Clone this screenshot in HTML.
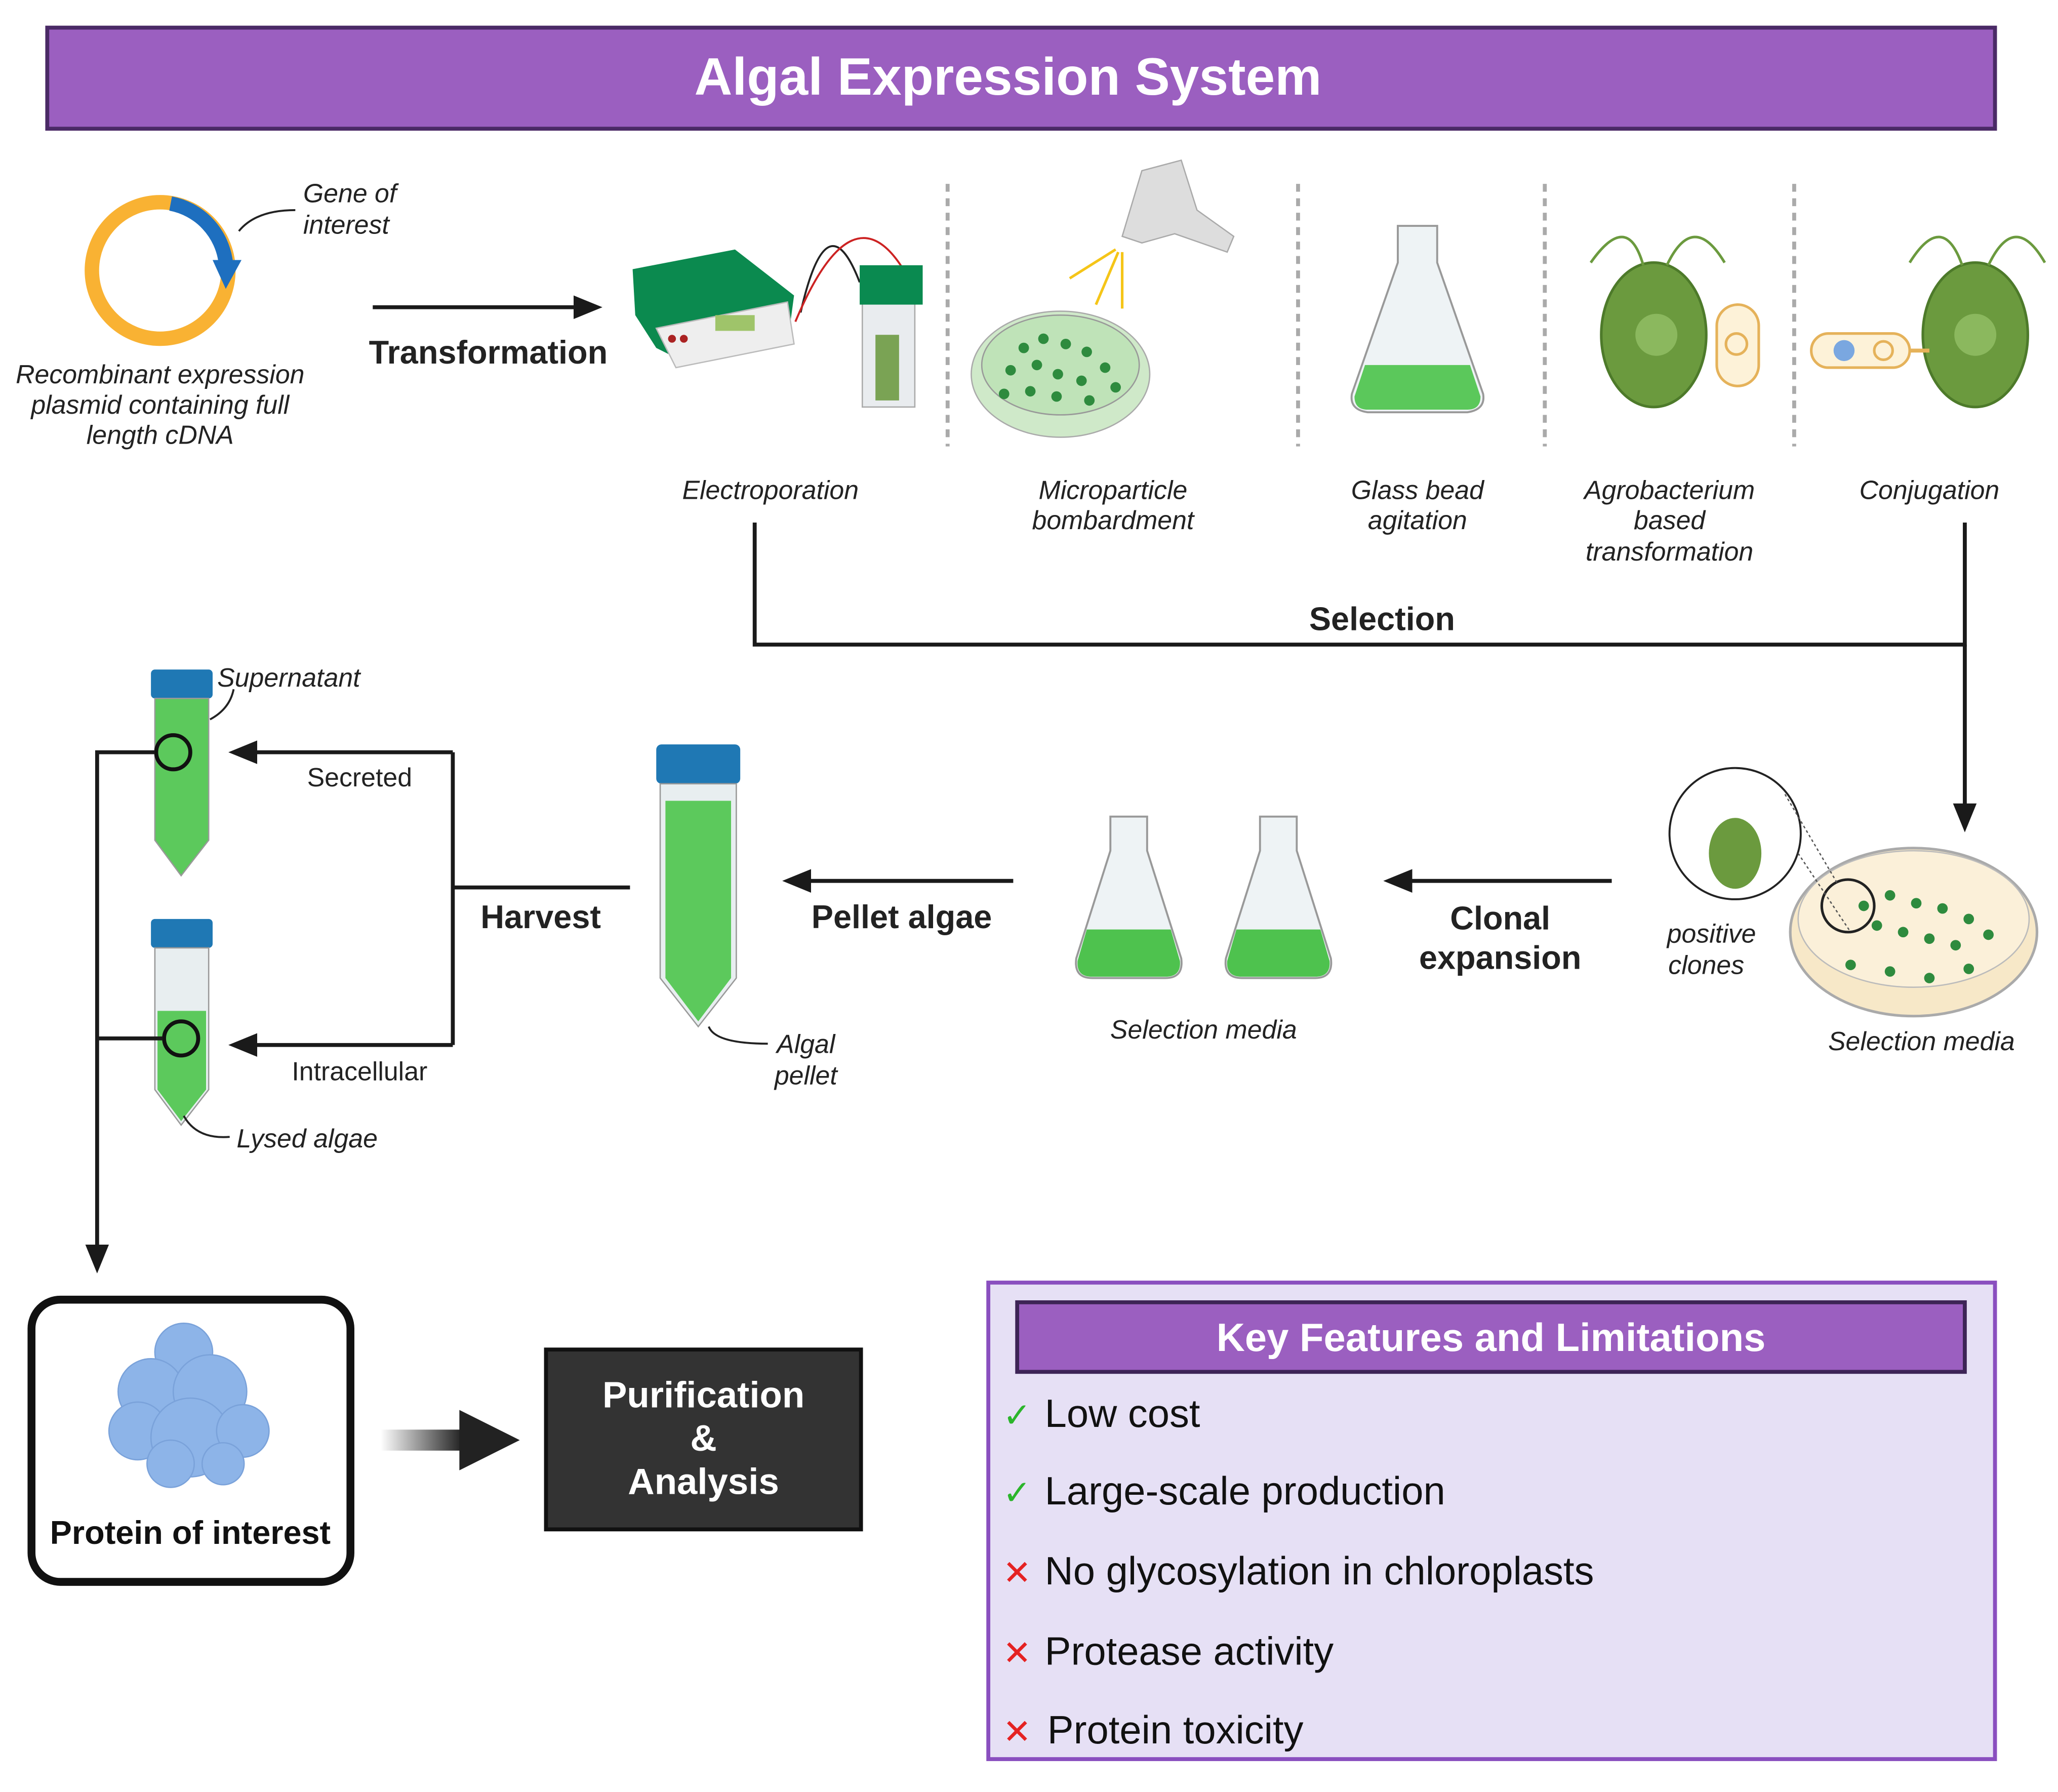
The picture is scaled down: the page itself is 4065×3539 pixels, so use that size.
<!DOCTYPE html>
<html><head><meta charset="utf-8"><style>
html,body{margin:0;padding:0;background:#fff;}
svg{display:block;}
text{font-family:"Liberation Sans",sans-serif;}
</style></head><body>
<svg width="4065" height="3539" viewBox="0 0 1568 1365" xmlns="http://www.w3.org/2000/svg">
<defs>
<marker id="ah" markerWidth="10" markerHeight="10" refX="8" refY="5" orient="auto" markerUnits="userSpaceOnUse"><path d="M0,0 L10,5 L0,10 z" fill="#1a1a1a"/></marker>
<marker id="ah2" markerWidth="22" markerHeight="18" refX="18" refY="9" orient="auto" markerUnits="userSpaceOnUse"><path d="M0,0 L22,9 L0,18 z" fill="#1a1a1a"/></marker>
<linearGradient id="bg" x1="0" x2="1"><stop offset="0" stop-color="#fff"/><stop offset="1" stop-color="#222"/></linearGradient>
</defs>
<rect x="36" y="21" width="1484" height="77" fill="#9B5FC0" stroke="#4a2a66" stroke-width="3"/>
<text x="768" y="72" font-size="40" font-weight="bold" fill="#fff" text-anchor="middle">Algal Expression System</text>

<!-- plasmid -->
<circle cx="122" cy="206" r="52" fill="none" stroke="#F9B233" stroke-width="11"/>
<path d="M130,155 A52,52 0 0 1 172,200" fill="none" stroke="#1E6FBF" stroke-width="11"/>
<path d="M162,198 L184,198 L172,220 z" fill="#1E6FBF"/>
<path d="M225,160 Q195,160 182,176" fill="none" stroke="#222" stroke-width="1.5"/>
<g font-size="20" font-style="italic" fill="#222">
<text x="231" y="154">Gene of</text><text x="231" y="178">interest</text>
<text x="122" y="292" text-anchor="middle">Recombinant expression</text>
<text x="122" y="315" text-anchor="middle">plasmid containing full</text>
<text x="122" y="338" text-anchor="middle">length cDNA</text>
</g>
<line x1="284" y1="234" x2="455" y2="234" stroke="#1a1a1a" stroke-width="3" marker-end="url(#ah2)"/>
<text x="372" y="277" font-size="25" font-weight="bold" text-anchor="middle" fill="#222">Transformation</text>

<!-- electroporator -->
<path d="M482,205 L560,190 L605,225 L600,262 L520,275 L500,265 L484,240 z" fill="#0b8a4f"/>
<path d="M500,250 L600,230 L605,262 L515,280 z" fill="#eee" stroke="#bbb"/>
<rect x="545" y="240" width="30" height="12" fill="#9fc46a"/>
<circle cx="512" cy="258" r="3" fill="#a22"/><circle cx="521" cy="258" r="3" fill="#a22"/>
<path d="M610,238 Q630,150 655,215" fill="none" stroke="#222" stroke-width="1.5"/>
<path d="M606,245 Q650,140 690,208" fill="none" stroke="#c22" stroke-width="1.5"/>
<rect x="657" y="215" width="40" height="95" fill="#e9ecef" stroke="#aaa"/>
<rect x="667" y="255" width="18" height="50" fill="#7aa354"/>
<rect x="655" y="202" width="48" height="30" fill="#0a8a50"/>

<g stroke="#aaa" stroke-width="3" stroke-dasharray="6,5">
<line x1="722" y1="140" x2="722" y2="340"/><line x1="989" y1="140" x2="989" y2="340"/>
<line x1="1177" y1="140" x2="1177" y2="340"/><line x1="1367" y1="140" x2="1367" y2="340"/>
</g>
<!-- gun & dish -->
<path d="M870,130 L900,122 L912,160 L940,180 L935,192 L895,178 L870,185 L855,180 z" fill="#ddd" stroke="#aaa"/>
<g stroke="#F5C518" stroke-width="2"><line x1="850" y1="190" x2="815" y2="212"/><line x1="852" y1="192" x2="835" y2="232"/><line x1="855" y1="192" x2="855" y2="235"/></g>
<ellipse cx="808" cy="285" rx="68" ry="48" fill="#cfe9c9" stroke="#aaa"/>
<ellipse cx="808" cy="278" rx="60" ry="38" fill="#bfe3b8" stroke="#999"/>
<g fill="#2e8b3e">
<circle cx="780" cy="265" r="4"/><circle cx="795" cy="258" r="4"/><circle cx="812" cy="262" r="4"/><circle cx="828" cy="268" r="4"/><circle cx="770" cy="282" r="4"/><circle cx="790" cy="278" r="4"/><circle cx="806" cy="285" r="4"/><circle cx="824" cy="290" r="4"/><circle cx="842" cy="280" r="4"/><circle cx="785" cy="298" r="4"/><circle cx="805" cy="302" r="4"/><circle cx="830" cy="305" r="4"/><circle cx="850" cy="295" r="4"/><circle cx="765" cy="300" r="4"/></g>
<!-- flask -->
<path d="M1065,172 L1095,172 L1095,200 L1130,300 Q1132,312 1118,314 L1042,314 Q1028,312 1030,300 L1065,200 z" fill="#eef3f5" stroke="#999" stroke-width="1.5"/>
<path d="M1040,278 L1120,278 L1128,302 Q1128,312 1118,312 L1042,312 Q1032,312 1032,302 z" fill="#5bc85b"/>
<!-- algae cells -->
<g>
<ellipse cx="1260" cy="255" rx="40" ry="55" fill="#6b9a3e" stroke="#4d7a2a" stroke-width="2"/>
<circle cx="1262" cy="255" r="16" fill="#8bb85e"/>
<path d="M1252,202 Q1240,160 1212,200 M1270,202 Q1290,160 1314,200" fill="none" stroke="#6b9a3e" stroke-width="2"/>
<rect x="1308" y="232" width="32" height="62" rx="16" fill="#fdf2d8" stroke="#e5b25a" stroke-width="2"/>
<circle cx="1323" cy="262" r="8" fill="none" stroke="#e5b25a" stroke-width="2"/>
<ellipse cx="1505" cy="255" rx="40" ry="55" fill="#6b9a3e" stroke="#4d7a2a" stroke-width="2"/>
<circle cx="1505" cy="255" r="16" fill="#8bb85e"/>
<path d="M1495,202 Q1480,160 1455,200 M1515,202 Q1535,160 1558,200" fill="none" stroke="#6b9a3e" stroke-width="2"/>
<rect x="1380" y="254" width="75" height="26" rx="13" fill="#fdf2d8" stroke="#e5b25a" stroke-width="2"/>
<circle cx="1405" cy="267" r="8" fill="#7aa7e0"/><circle cx="1435" cy="267" r="7" fill="none" stroke="#e5b25a" stroke-width="2"/>
<line x1="1455" y1="267" x2="1470" y2="267" stroke="#e5b25a" stroke-width="3"/>
</g>
<g font-size="20" font-style="italic" fill="#222" text-anchor="middle">
<text x="587" y="380">Electroporation</text>
<text x="848" y="380">Microparticle</text><text x="848" y="403">bombardment</text>
<text x="1080" y="380">Glass bead</text><text x="1080" y="403">agitation</text>
<text x="1272" y="380">Agrobacterium</text><text x="1272" y="403">based</text><text x="1272" y="427">transformation</text>
<text x="1470" y="380">Conjugation</text>
</g>
<!-- selection bracket -->
<polyline points="575,398 575,491 1497,491 1497,398" fill="none" stroke="#1a1a1a" stroke-width="3"/>
<line x1="1497" y1="491" x2="1497" y2="630" stroke="#1a1a1a" stroke-width="3" marker-end="url(#ah2)"/>
<text x="1053" y="480" font-size="25" font-weight="bold" text-anchor="middle" fill="#222">Selection</text>

<!-- selection dish -->
<ellipse cx="1458" cy="710" rx="94" ry="64" fill="#f7e8c8" stroke="#aaa" stroke-width="2"/>
<ellipse cx="1458" cy="700" rx="88" ry="52" fill="#fbf0d9" stroke="#bbb"/>
<g fill="#2e8b3e"><circle cx="1420" cy="690" r="4"/><circle cx="1440" cy="682" r="4"/><circle cx="1460" cy="688" r="4"/><circle cx="1480" cy="692" r="4"/><circle cx="1500" cy="700" r="4"/><circle cx="1430" cy="705" r="4"/><circle cx="1450" cy="710" r="4"/><circle cx="1470" cy="715" r="4"/><circle cx="1490" cy="720" r="4"/><circle cx="1515" cy="712" r="4"/><circle cx="1410" cy="735" r="4"/><circle cx="1440" cy="740" r="4"/><circle cx="1470" cy="745" r="4"/><circle cx="1500" cy="738" r="4"/></g>
<circle cx="1408" cy="690" r="20" fill="none" stroke="#222" stroke-width="2"/>
<circle cx="1322" cy="635" r="50" fill="#fff" stroke="#222" stroke-width="1.5"/>
<ellipse cx="1322" cy="650" rx="20" ry="27" fill="#6b9a3e"/>
<line x1="1360" y1="605" x2="1400" y2="673" stroke="#555" stroke-dasharray="2,2"/>
<line x1="1370" y1="650" x2="1410" y2="710" stroke="#555" stroke-dasharray="2,2"/>
<g font-size="20" font-style="italic" fill="#222" text-anchor="middle">
<text x="1304" y="718">positive</text><text x="1300" y="742">clones</text>
<text x="1464" y="800">Selection media</text>
<text x="917" y="791">Selection media</text>
<text x="614" y="802">Algal</text><text x="614" y="826">pellet</text>
<text x="220" y="523">Supernatant</text>
<text x="234" y="874">Lysed algae</text>
</g>
<line x1="1228" y1="671" x2="1058" y2="671" stroke="#1a1a1a" stroke-width="3" marker-end="url(#ah2)"/>
<text x="1143" y="708" font-size="25" font-weight="bold" text-anchor="middle" fill="#222">Clonal</text>
<text x="1143" y="738" font-size="25" font-weight="bold" text-anchor="middle" fill="#222">expansion</text>
<!-- two flasks -->
<g>
<path d="M846,622 L874,622 L874,648 L900,730 Q902,745 888,745 L832,745 Q818,745 820,730 L846,648 z" fill="#eef3f5" stroke="#999" stroke-width="1.5"/>
<path d="M828,708 L892,708 L899,732 Q900,744 888,744 L832,744 Q820,744 821,732 z" fill="#4ec24e"/>
<path d="M960,622 L988,622 L988,648 L1014,730 Q1016,745 1002,745 L946,745 Q932,745 934,730 L960,648 z" fill="#eef3f5" stroke="#999" stroke-width="1.5"/>
<path d="M942,708 L1006,708 L1013,732 Q1014,744 1002,744 L946,744 Q934,744 935,732 z" fill="#4ec24e"/>
</g>
<line x1="772" y1="671" x2="600" y2="671" stroke="#1a1a1a" stroke-width="3" marker-end="url(#ah2)"/>
<text x="687" y="707" font-size="25" font-weight="bold" text-anchor="middle" fill="#222">Pellet algae</text>
<!-- big tube -->
<rect x="500" y="567" width="64" height="30" rx="4" fill="#1f78b4"/>
<path d="M503,597 L561,597 L561,745 L532,782 L503,745 z" fill="#e8eef0" stroke="#999"/>
<path d="M507,610 L557,610 L557,745 L532,778 L507,745 z" fill="#5cc95c"/>
<path d="M540,782 Q545,795 585,795" fill="none" stroke="#222" stroke-width="1.5"/>

<!-- harvest -->
<line x1="480" y1="676" x2="345" y2="676" stroke="#1a1a1a" stroke-width="3"/>
<polyline points="345,573 345,796" fill="none" stroke="#1a1a1a" stroke-width="3"/>
<line x1="345" y1="573" x2="178" y2="573" stroke="#1a1a1a" stroke-width="3" marker-end="url(#ah2)"/>
<line x1="345" y1="796" x2="178" y2="796" stroke="#1a1a1a" stroke-width="3" marker-end="url(#ah2)"/>
<text x="412" y="707" font-size="25" font-weight="bold" text-anchor="middle" fill="#222">Harvest</text>
<text x="274" y="599" font-size="20" text-anchor="middle" fill="#222">Secreted</text>
<text x="274" y="823" font-size="20" text-anchor="middle" fill="#222">Intracellular</text>
<!-- small tubes -->
<g>
<rect x="115" y="510" width="47" height="22" rx="3" fill="#1f78b4"/>
<path d="M118,532 L159,532 L159,640 L138,667 L118,640 z" fill="#5cc95c" stroke="#999"/>
<rect x="115" y="700" width="47" height="22" rx="3" fill="#1f78b4"/>
<path d="M118,722 L159,722 L159,830 L138,857 L118,830 z" fill="#e8eef0" stroke="#999"/>
<path d="M120,770 L157,770 L157,830 L138,854 L120,830 z" fill="#5cc95c"/>
<circle cx="132" cy="573" r="13" fill="none" stroke="#111" stroke-width="3"/>
<circle cx="138" cy="791" r="13" fill="none" stroke="#111" stroke-width="3"/>
<path d="M160,548 Q175,540 178,525" fill="none" stroke="#222" stroke-width="1.5"/>
<path d="M140,850 Q150,868 175,866" fill="none" stroke="#222" stroke-width="1.5"/>
</g>
<polyline points="118,573 74,573 74,966" fill="none" stroke="#1a1a1a" stroke-width="3" marker-end="url(#ah2)"/>
<line x1="74" y1="791" x2="124" y2="791" stroke="#1a1a1a" stroke-width="3"/>

<!-- protein box -->
<rect x="24" y="990" width="243" height="215" rx="22" fill="#fff" stroke="#111" stroke-width="6"/>
<g fill="#8db4e8" stroke="#7aa2da">
<circle cx="140" cy="1030" r="22"/><circle cx="115" cy="1060" r="25"/><circle cx="160" cy="1060" r="28"/><circle cx="105" cy="1090" r="22"/><circle cx="145" cy="1095" r="30"/><circle cx="185" cy="1090" r="20"/><circle cx="130" cy="1115" r="18"/><circle cx="170" cy="1115" r="16"/>
</g>
<text x="145" y="1176" font-size="25" font-weight="bold" text-anchor="middle" fill="#111">Protein of interest</text>
<rect x="290" y="1089" width="62" height="16" fill="url(#bg)"/>
<path d="M350,1074 L396,1097 L350,1120 z" fill="#222"/>
<rect x="416" y="1028" width="240" height="137" fill="#333" stroke="#111" stroke-width="3"/>
<g font-size="28" font-weight="bold" fill="#fff" text-anchor="middle">
<text x="536" y="1072">Purification</text><text x="536" y="1105">&amp;</text><text x="536" y="1138">Analysis</text></g>

<!-- key features -->
<rect x="753" y="977" width="767" height="363" fill="#E6E0F5" stroke="#8a4fbf" stroke-width="3"/>
<rect x="775" y="992" width="722" height="53" fill="#9B5FC0" stroke="#3d2456" stroke-width="3"/>
<text x="1136" y="1029" font-size="30" font-weight="bold" text-anchor="middle" fill="#fff">Key Features and Limitations</text>
<g font-size="30" fill="#111">
<text x="764" y="1087" fill="#2bb52b" font-size="26">✓</text><text x="796" y="1087">Low cost</text>
<text x="764" y="1146" fill="#2bb52b" font-size="26">✓</text><text x="796" y="1146">Large-scale production</text>
<text x="764" y="1207" fill="#e52222" font-size="26">✕</text><text x="796" y="1207">No glycosylation in chloroplasts</text>
<text x="764" y="1268" fill="#e52222" font-size="26">✕</text><text x="796" y="1268">Protease activity</text>
<text x="764" y="1328" fill="#e52222" font-size="26">✕</text><text x="798" y="1328">Protein toxicity</text>
</g>
</svg>
</body></html>
